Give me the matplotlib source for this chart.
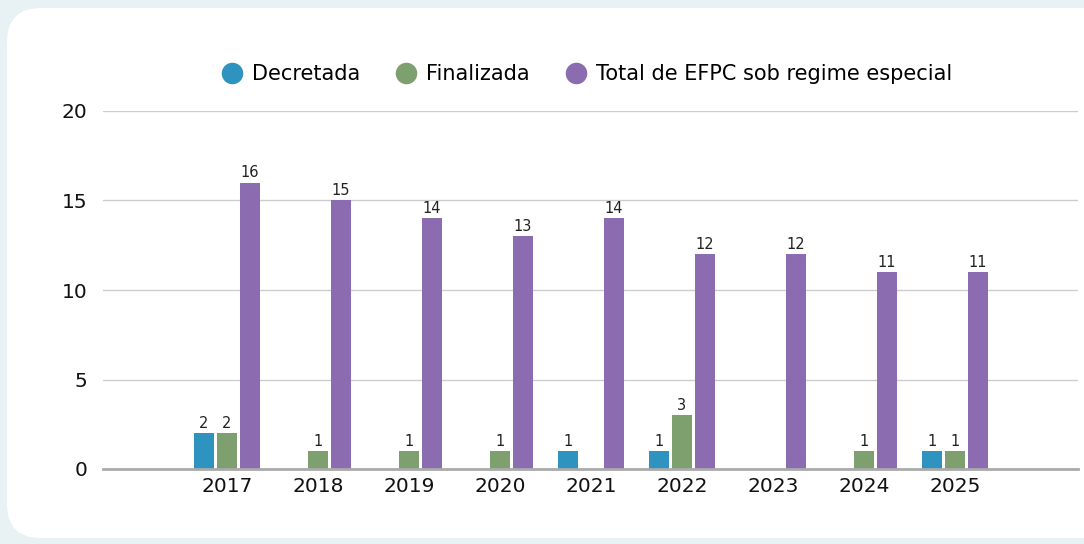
import numpy as np
import matplotlib.pyplot as plt
from matplotlib.patches import FancyBboxPatch
from matplotlib.lines import Line2D

plt.rcParams['font.family'] = ['DejaVu Sans']

# Data
years = ['2017', '2018', '2019', '2020', '2021', '2022', '2023', '2024', '2025']
decretada = [2, 0, 0, 0, 1, 1, 0, 0, 1]
finalizada = [2, 1, 1, 1, 0, 3, 0, 1, 1]
total = [16, 15, 14, 13, 14, 12, 12, 11, 11]

series = [
    ('Decretada', decretada, '#2e93bf'),
    ('Finalizada', finalizada, '#7ea06f'),
    ('Total de EFPC sob regime especial', total, '#8c6cb0'),
]

W, H = 1084, 544
fig = plt.figure(figsize=(W / 100, H / 100), dpi=100)
fig.patch.set_facecolor('#e8f1f3')

# background axes in pixel coords, holds the white rounded card
bg = fig.add_axes([0, 0, 1, 1], zorder=0)
bg.set_xlim(0, W)
bg.set_ylim(H, 0)
bg.axis('off')
bg.add_patch(FancyBboxPatch((7, 8), W + 40, H - 14,
                            boxstyle='round,pad=0,rounding_size=34',
                            facecolor='white', edgecolor='none'))

ax = fig.add_axes([103 / W, (H - 469) / H, (1078 - 103) / W, (469 - 111) / H], zorder=1)
ax.set_facecolor('none')

x = np.arange(len(years))
width = 0.23
offsets = [-0.253, 0, 0.253]

for (name, vals, color), off in zip(series, offsets):
    vals = np.array(vals, dtype=float)
    mask = vals > 0
    bars = ax.bar(x[mask] + off, vals[mask], width, color=color, zorder=3)
    for b, v in zip(bars, vals[mask]):
        ax.text(b.get_x() + b.get_width() / 2, v + 0.12, f'{int(v)}',
                ha='center', va='bottom', fontsize=10.5, color='#222222', zorder=4)

ax.set_xlim((103 - 227) / 91, (1078 - 227) / 91)
ax.set_ylim(0, 20)
ax.set_yticks([0, 5, 10, 15, 20])
ax.set_xticks(x)
ax.set_xticklabels(years)
ax.tick_params(axis='both', length=0, labelsize=14.5, colors='#111111')
ax.tick_params(axis='y', pad=11)
ax.tick_params(axis='x', pad=6)
ax.grid(axis='y', color='#cccccc', linewidth=1, zorder=0)
for s in ['top', 'right', 'left']:
    ax.spines[s].set_visible(False)
ax.spines['bottom'].set_color('#aaaaaa')
ax.spines['bottom'].set_linewidth(2)
ax.spines['bottom'].set_zorder(5)

handles = [Line2D([], [], marker='o', linestyle='none', markersize=14.5,
                  markerfacecolor=c, markeredgecolor=c) for _, _, c in series]
fig.legend(handles, [n for n, _, _ in series], loc='center',
           bbox_to_anchor=(587 / W, (H - 74) / H), ncol=3, frameon=False,
           fontsize=15, handlelength=1.0, handletextpad=0.46, columnspacing=1.7)

fig.savefig('out.png', dpi=100, facecolor=fig.get_facecolor())
